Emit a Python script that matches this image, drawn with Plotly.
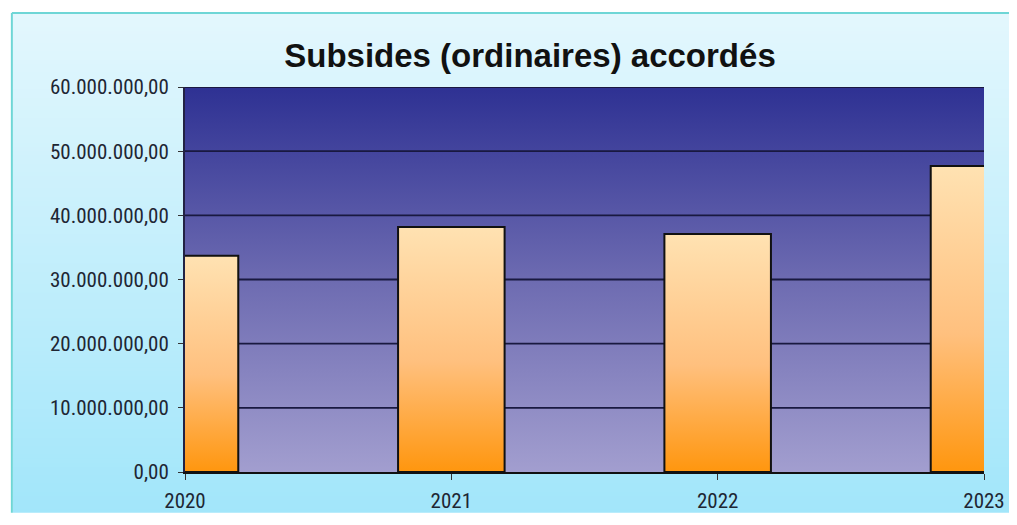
import plotly.graph_objects as go

# ---- data ----
years = [2020, 2021, 2022, 2023]
subsides = [33_700_000, 38_200_000, 37_100_000, 47_700_000]
y_ticks = [0, 10_000_000, 20_000_000, 30_000_000, 40_000_000, 50_000_000, 60_000_000]
title_text = "Subsides (ordinaires) accordés"

# ---- layout constants (figure pixels; page adds an 8px body margin) ----
W, H = 1009, 517
ML, MR, MT, MB = 177, 29, 79, 42
BAR_HALF = 0.2
Y_MAX = 60_000_000

PW = W - ML - MR
PH = H - MT - MB


def px_x(p):
    return (p - ML) / PW


def px_y(p):
    return (H - MB - p) / PH


def lerp_hex(c1, c2, t):
    a = [int(c1[i:i + 2], 16) for i in (1, 3, 5)]
    b = [int(c2[i:i + 2], 16) for i in (1, 3, 5)]
    return "rgb(%d,%d,%d)" % tuple(round(a[k] + (b[k] - a[k]) * t) for k in range(3))


fig = go.Figure()

# plot-area gradient background
fig.add_trace(go.Scatter(
    x=[years[0], years[0], years[-1], years[-1], years[0]],
    y=[0, Y_MAX, Y_MAX, 0, 0],
    mode="lines", fill="toself", line=dict(width=0),
    fillgradient=dict(type="vertical",
                      colorscale=[[0, "#A29ECF"], [0.5, "#6D6BB1"], [1, "#2E3193"]]),
    hoverinfo="skip", showlegend=False,
))

# gridlines
gx, gy = [], []
for v in y_ticks[1:]:
    gx += [years[0], years[-1], None]
    gy += [v, v, None]
fig.add_trace(go.Scatter(x=gx, y=gy, mode="lines",
                         line=dict(color="#191940", width=1.8),
                         hoverinfo="skip", showlegend=False))

# bars with vertical gradient
for yr, val in zip(years, subsides):
    fig.add_trace(go.Scatter(
        x=[yr - BAR_HALF, yr - BAR_HALF, yr + BAR_HALF, yr + BAR_HALF, yr - BAR_HALF],
        y=[0, val, val, 0, 0],
        mode="lines", fill="toself",
        line=dict(color="#111111", width=2),
        fillgradient=dict(type="vertical",
                          colorscale=[[0, "#FF960E"], [0.45, "#FFC07E"], [1, "#FFE2B2"]]),
        name=str(yr), showlegend=False,
        hovertemplate="%{y:,.2f}<extra>" + str(yr) + "</extra>",
    ))

# paper gradient (strips), kept inside the figure bounds
shapes = []
top_px, bot_px = 4, H
n = 120
for i in range(n):
    p0 = top_px + (bot_px - top_px) * i / n
    p1 = min(bot_px, top_px + (bot_px - top_px) * (i + 1) / n + 0.8)
    shapes.append(dict(type="rect", xref="paper", yref="paper", layer="below",
                       x0=px_x(4), x1=px_x(W), y0=px_y(p1), y1=px_y(p0),
                       line=dict(width=0),
                       fillcolor=lerp_hex("#E3F7FD", "#A2E6FA", i / (n - 1))))
# outer turquoise border (left and top edges only visible)
shapes.append(dict(type="line", xref="paper", yref="paper", layer="below",
                   x0=px_x(3), x1=px_x(3), y0=px_y(H), y1=px_y(3),
                   line=dict(color="#6ED6D6", width=2)))
shapes.append(dict(type="line", xref="paper", yref="paper", layer="below",
                   x0=px_x(3), x1=px_x(W), y0=px_y(3), y1=px_y(3),
                   line=dict(color="#6ED6D6", width=2)))

tick_font = dict(family="Roboto Condensed, Liberation Sans, Arial",
                 size=21, color="#1E2633")

fig.update_layout(
    width=W, height=H,
    margin=dict(l=ML, r=MR, t=MT, b=MB, pad=0),
    paper_bgcolor="white", plot_bgcolor="rgba(0,0,0,0)",
    separators=",.",
    shapes=shapes,
    showlegend=False,
    title=dict(text=title_text, xref="container", yref="container",
               x=522 / W, xanchor="center", y=1 - 47 / H, yanchor="middle",
               font=dict(family="Liberation Sans, Arial", size=33, color="#111111",
                         weight="bold")),
    xaxis=dict(range=[years[0], years[-1]], tickvals=years, ticktext=[str(y) for y in years],
               showgrid=False, zeroline=False, showline=True, linecolor="#111111",
               linewidth=2, ticks="outside", ticklen=6, tickcolor="#333333",
               ticklabelstandoff=3,
               tickfont=tick_font, fixedrange=True),
    yaxis=dict(range=[0, Y_MAX], tickvals=y_ticks, tickformat=",.2f",
               showgrid=False, zeroline=False, showline=True, linecolor="#222244",
               linewidth=2, ticks="outside", ticklen=5, tickcolor="#333333",
               ticklabelstandoff=5,
               tickfont=tick_font, fixedrange=True),
)

fig.write_html("out.html")
